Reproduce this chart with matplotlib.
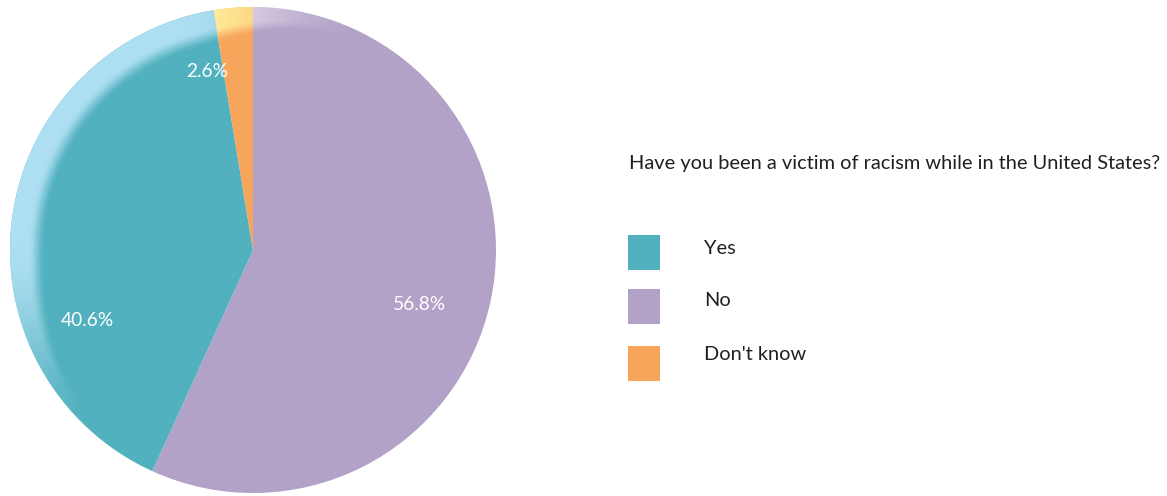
import numpy as np
import matplotlib
matplotlib.use("Agg")
import matplotlib.pyplot as plt
from matplotlib.patches import Circle, Rectangle

# Survey answers
categories = ["Yes", "No", "Don't know"]
shares = [40.6, 56.8, 2.6]
colors = ["#52B1BF", "#B2A2C7", "#F8A55C"]
rim_colors = ["#AEDFF3", "#E6DEEE", "#FFF29C"]
question = "Have you been a victim of racism while in the United States?"

# label placement inside the pie: (angle in degrees, fraction of radius)
label_polar = {"Yes": (203.0, 0.74), "No": (-18.0, 0.72), "Don't know": (104.4, 0.76)}

FONT = ["Lato", "DejaVu Sans"]
TEXT_COLOR = "#231F20"

W, H = 1167, 496
fig = plt.figure(figsize=(W / 100, H / 100), dpi=100)
fig.patch.set_facecolor("white")

# ---- pie -------------------------------------------------------------
R_px, side = 243, 490
cx, cy = 253, 250
ax = fig.add_axes([(cx - side / 2) / W, (H - cy - side / 2) / H, side / W, side / H])

order = [1, 0, 2]  # No, Yes, Don't know going clockwise from 12 o'clock
vals = [shares[i] for i in order]
wedges, _ = ax.pie(vals, colors=[colors[i] for i in order], startangle=90,
                   counterclock=False, radius=1,
                   wedgeprops=dict(linewidth=0, antialiased=True))
lim = side / 2 / R_px
ax.set_xlim(-lim, lim)
ax.set_ylim(-lim, lim)
ax.set_aspect("equal")
ax.axis("off")

# soft glossy rim on the upper-left edge
def smooth(t):
    return t * t * (3 - 2 * t)

def ramp(a, lo, hi):
    return np.clip((a - lo) / (hi - lo), 0, 1)

n = 900
xs = np.linspace(-1, 1, n)
X, Y = np.meshgrid(xs, xs)
rr = np.hypot(X, Y)
theta = np.degrees(np.arctan2(Y, X)) % 360
f = smooth(ramp(theta, 62, 108)) * smooth(1 - ramp(theta, 178, 228))
w = 0.025 + 0.05 * f
t = 0.035 + 0.035 * f
alpha = f * smooth(ramp(rr, 1 - w - t, 1 - w))

pct = ((90 - theta) % 360) / 360 * 100
cum = np.cumsum(vals)
idx = np.clip(np.searchsorted(cum, pct), 0, len(vals) - 1)
rim_rgb = np.array([matplotlib.colors.to_rgb(rim_colors[i]) for i in order])
rgba = np.zeros((n, n, 4))
rgba[..., :3] = rim_rgb[idx]
rgba[..., 3] = alpha
im = ax.imshow(rgba, extent=(-1, 1, -1, 1), origin="lower",
               interpolation="bilinear", zorder=3)
im.set_clip_path(Circle((0, 0), 1, transform=ax.transData))

def fit_size(txt, target_px, base=12.0):
    fig.canvas.draw()
    return base * target_px / txt.get_window_extent().width

pct_texts = []
for cat, val in zip(categories, shares):
    ang, rad = label_polar[cat]
    a = np.radians(ang)
    pct_texts.append(ax.text(rad * np.cos(a), rad * np.sin(a), f"{val:.1f}%",
                             color="white", ha="center", va="center",
                             fontsize=12.0, family=FONT, zorder=5))
pfs = fit_size(pct_texts[1], 53)
for tx in pct_texts:
    tx.set_fontsize(pfs)

# ---- legend ----------------------------------------------------------
def px(x, y):
    return x / W, 1 - y / H

title = fig.text(*px(629, 164), question, ha="left", va="center",
                 fontsize=12.0, family=FONT, color=TEXT_COLOR)
fs = fit_size(title, 531)
title.set_fontsize(fs)

box_tops = [235, 289, 346]
text_y = [248, 300, 355]
for cat, col, top, ty in zip(categories, colors, box_tops, text_y):
    fig.patches.append(Rectangle(px(628, top + 35), 32 / W, 35 / H,
                                 transform=fig.transFigure, facecolor=col,
                                 edgecolor="none"))
    fig.text(*px(704, ty), cat, ha="left", va="center", fontsize=fs,
             family=FONT, color=TEXT_COLOR)

fig.savefig("out.png", dpi=100, facecolor="white")
